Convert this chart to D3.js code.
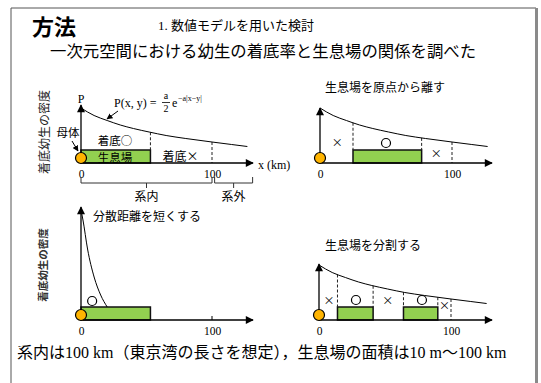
<!DOCTYPE html>
<html>
<head>
<meta charset="utf-8">
<script src="https://cdn.jsdelivr.net/npm/d3@7"></script>
<style>
  body { margin: 0; background: #fff; }
  svg { display: block; }
</style>
</head>
<body>
<div id="chart"></div>
<script>
var width = 541, height = 383;

// x positions in km, density in arbitrary units
var tickValues = [0, 100];
var curveLong = [[0, 55], [5, 51], [10, 47.5], [20, 42.5], [30, 38], [40, 34.5], [52, 31],
                 [65, 27.5], [80, 24.5], [100, 21], [115, 18.5], [127, 16.5]];
var curveShort = [[0, 110], [1.5, 100], [5, 71], [10, 43], [15, 25], [20, 13]];

var habitat1 = [[0, 53]];
var habitat2 = [[25, 77]];
var habitat3 = [[0, 53]];
var habitat4 = [[14, 41], [64, 90]];

var settled2 = [[50, 20]];
var failed2 = [[13, 20], [88, 9]];
var settled3 = [[8.5, 19]];
var settled4 = [[28, 20], [78, 20]];
var failed4 = [[7.5, 19], [52, 19], [95, 14]];

var zones = [{ name: '系内', from: 0, to: 100 }, { name: '系外', from: 102, to: 131 }];

var jp = "'Noto Sans CJK JP', sans-serif";
var serif = "'Liberation Serif', 'Noto Sans CJK JP', serif";

var svg = d3.select('#chart')
    .append('svg')
    .attr('width', width)
    .attr('height', height);

var defs = svg.append('defs');
defs.append('marker')
    .attr('id', 'arrow')
    .attr('viewBox', '0 0 10 10')
    .attr('refX', 9).attr('refY', 5)
    .attr('markerWidth', 10).attr('markerHeight', 8)
    .attr('markerUnits', 'userSpaceOnUse')
    .attr('orient', 'auto')
    .append('path').attr('d', 'M0,0L10,5L0,10z').attr('fill', '#000');
defs.append('marker')
    .attr('id', 'arrowSmall')
    .attr('viewBox', '0 0 10 10')
    .attr('refX', 9).attr('refY', 5)
    .attr('markerWidth', 6).attr('markerHeight', 6)
    .attr('markerUnits', 'userSpaceOnUse')
    .attr('orient', 'auto')
    .append('path').attr('d', 'M0,0L10,5L0,10z').attr('fill', '#000');

// slide frame
svg.append('line').attr('x1', 11).attr('y1', 8).attr('x2', 536).attr('y2', 8)
    .attr('stroke', '#555').attr('stroke-width', 1);
svg.append('line').attr('x1', 11).attr('y1', 8).attr('x2', 11).attr('y2', height)
    .attr('stroke', '#555').attr('stroke-width', 1);
svg.append('line').attr('x1', 536.5).attr('y1', 8).attr('x2', 536.5).attr('y2', height)
    .attr('stroke', '#8a8a8a').attr('stroke-width', 3);

// headings
svg.append('text').attr('x', 32).attr('y', 35)
    .attr('font-family', jp).attr('font-size', 22).attr('font-weight', 'bold')
    .text('方法');
svg.append('text').attr('x', 158).attr('y', 30)
    .attr('font-family', serif).attr('font-size', 13)
    .text('1. 数値モデルを用いた検討');
svg.append('text').attr('x', 50).attr('y', 57)
    .attr('font-family', jp).attr('font-size', 16.4)
    .text('一次元空間における幼生の着底率と生息場の関係を調べた');

function drawPanel(cfg) {
    var x = d3.scaleLinear().domain([0, 100]).range([cfg.x0, cfg.x100]);
    var y = d3.scaleLinear().domain([0, 100]).range([cfg.y0, cfg.y0 - 100]);
    var g = svg.append('g');
    var boxH = 13;

    // habitat boxes
    g.selectAll('.hab')
        .data(cfg.habitat)
        .enter()
        .append('rect')
        .attr('x', d => x(d[0]))
        .attr('y', cfg.y0 - boxH)
        .attr('width', d => x(d[1]) - x(d[0]))
        .attr('height', boxH)
        .attr('fill', '#92d050')
        .attr('stroke', '#111')
        .attr('stroke-width', 1.5);

    var curveFn = d3.line()
        .x(d => x(d[0]))
        .y(d => y(d[1]))
        .curve(d3.curveMonotoneX);

    // dashed borders from curve to box top / axis
    if (cfg.dashes) {
        var edges = [];
        cfg.habitat.forEach(h => h.forEach(e => { if (e > 0) edges.push(e); }));
        var interp = d3.scaleLinear().domain(cfg.curve.map(d => d[0])).range(cfg.curve.map(d => d[1]));
        edges.forEach(e => {
            g.append('line')
                .attr('x1', x(e)).attr('x2', x(e))
                .attr('y1', y(interp(e))).attr('y2', cfg.y0 - boxH)
                .attr('stroke', '#222').attr('stroke-dasharray', '3,2').attr('stroke-width', 1);
        });
        g.append('line')
            .attr('x1', x(100)).attr('x2', x(100))
            .attr('y1', y(interp(100))).attr('y2', cfg.y0)
            .attr('stroke', '#222').attr('stroke-dasharray', '3,2').attr('stroke-width', 1);
    } else {
        g.append('line')
            .attr('x1', x(100)).attr('x2', x(100))
            .attr('y1', cfg.y0 - 4).attr('y2', cfg.y0)
            .attr('stroke', '#000');
    }

    g.append('path')
        .datum(cfg.curve)
        .attr('d', curveFn)
        .attr('fill', 'none')
        .attr('stroke', '#000')
        .attr('stroke-width', 1);

    // axes
    g.append('line')
        .attr('x1', cfg.x0).attr('y1', cfg.y0)
        .attr('x2', cfg.xEnd).attr('y2', cfg.y0)
        .attr('stroke', '#000').attr('stroke-width', 1.3)
        .attr('marker-end', 'url(#arrow)');
    g.append('line')
        .attr('x1', cfg.x0).attr('y1', cfg.y0)
        .attr('x2', cfg.x0).attr('y2', cfg.top)
        .attr('stroke', '#000').attr('stroke-width', 1.3)
        .attr('marker-end', 'url(#arrow)');

    var ax = g.append('g')
        .attr('transform', `translate(0, ${cfg.y0})`)
        .call(d3.axisBottom(x).tickValues(tickValues).tickSize(0).tickPadding(7));
    ax.select('.domain').remove();
    ax.selectAll('text')
        .attr('font-family', serif)
        .attr('font-size', 11.5)
        .attr('fill', '#000');

    // mother
    g.append('circle')
        .attr('cx', cfg.x0).attr('cy', cfg.y0 - 5)
        .attr('r', 5.5)
        .attr('fill', '#ffb400')
        .attr('stroke', '#000').attr('stroke-width', 1.2);

    // settle ok / fail marks
    g.selectAll('.ok')
        .data(cfg.settled || [])
        .enter()
        .append('circle')
        .attr('cx', d => x(d[0]))
        .attr('cy', d => y(d[1]))
        .attr('r', 4.5)
        .attr('fill', '#fff')
        .attr('stroke', '#000')
        .attr('stroke-width', 1.2);
    g.selectAll('.ng')
        .data(cfg.failed || [])
        .enter()
        .append('text')
        .attr('x', d => x(d[0]))
        .attr('y', d => y(d[1]))
        .attr('dy', '0.35em')
        .attr('text-anchor', 'middle')
        .attr('font-family', jp)
        .attr('font-size', 11)
        .text('×');

    if (cfg.title) {
        g.append('text')
            .attr('x', cfg.titleX).attr('y', cfg.titleY)
            .attr('font-family', jp).attr('font-size', 12)
            .text(cfg.title);
    }
    return { g: g, x: x, y: y };
}

var p1 = drawPanel({ x0: 81, x100: 212, y0: 163, top: 105, xEnd: 253,
    curve: curveLong, habitat: habitat1, dashes: true });
var p2 = drawPanel({ x0: 320, x100: 452, y0: 163, top: 108, xEnd: 492,
    curve: curveLong, habitat: habitat2, dashes: true,
    settled: settled2, failed: failed2,
    title: '生息場を原点から離す', titleX: 325, titleY: 92 });
var p3 = drawPanel({ x0: 81, x100: 212, y0: 320, top: 207, xEnd: 253,
    curve: curveShort, habitat: habitat3, dashes: false,
    settled: settled3,
    title: '分散距離を短くする', titleX: 93, titleY: 221 });
var p4 = drawPanel({ x0: 319, x100: 451, y0: 320, top: 264, xEnd: 492,
    curve: curveLong, habitat: habitat4, dashes: true,
    settled: settled4, failed: failed4,
    title: '生息場を分割する', titleX: 325, titleY: 250 });

// panel 1 annotations
var g1 = p1.g, x1 = p1.x;
g1.append('text').attr('x', x1(26)).attr('y', 157.5).attr('dy', '0.35em')
    .attr('text-anchor', 'middle').attr('font-family', jp).attr('font-size', 11.5)
    .text('生息場');
g1.append('text').attr('x', x1(26)).attr('y', 141).attr('dy', '0.35em')
    .attr('text-anchor', 'middle').attr('font-family', jp).attr('font-size', 11.5)
    .text('着底○');
g1.append('text').attr('x', x1(76)).attr('y', 157).attr('dy', '0.35em')
    .attr('text-anchor', 'middle').attr('font-family', jp).attr('font-size', 12)
    .text('着底×');
g1.append('text').attr('x', 68).attr('y', 133).attr('dy', '0.35em')
    .attr('text-anchor', 'middle').attr('font-family', jp).attr('font-size', 11.5)
    .text('母体');
g1.append('line').attr('x1', 72).attr('y1', 141).attr('x2', 78).attr('y2', 151)
    .attr('stroke', '#000').attr('marker-end', 'url(#arrowSmall)');
g1.append('text').attr('x', 81).attr('y', 103).attr('text-anchor', 'middle')
    .attr('font-family', serif).attr('font-size', 12).text('P');
g1.append('text').attr('x', 258).attr('y', 169)
    .attr('font-family', serif).attr('font-size', 12).text('x (km)');

// formula
g1.append('text').attr('x', 114).attr('y', 107)
    .attr('font-family', serif).attr('font-size', 12).text('P(x, y) =');
g1.append('text').attr('x', 166).attr('y', 99).attr('text-anchor', 'middle')
    .attr('font-family', serif).attr('font-size', 10).text('a');
g1.append('line').attr('x1', 162).attr('x2', 170).attr('y1', 102.5).attr('y2', 102.5)
    .attr('stroke', '#000').attr('stroke-width', 0.8);
g1.append('text').attr('x', 166).attr('y', 112).attr('text-anchor', 'middle')
    .attr('font-family', serif).attr('font-size', 10).text('2');
g1.append('text').attr('x', 172).attr('y', 107)
    .attr('font-family', serif).attr('font-size', 12).text('e');
g1.append('text').attr('x', 178).attr('y', 101)
    .attr('font-family', serif).attr('font-size', 8).text('−a|x−y|');
g1.append('line').attr('x1', 118).attr('y1', 111).attr('x2', 107).attr('y2', 119)
    .attr('stroke', '#000').attr('marker-end', 'url(#arrowSmall)');

// zone brackets
zones.forEach(z => {
    var a = x1(z.from), b = x1(z.to), m = (a + b) / 2;
    g1.append('path')
        .attr('d', `M${a},177V183H${b}V177M${m},183V188`)
        .attr('fill', 'none').attr('stroke', '#333').attr('stroke-width', 1);
    g1.append('text').attr('x', m).attr('y', 197).attr('dy', '0.35em')
        .attr('text-anchor', 'middle').attr('font-family', jp).attr('font-size', 12)
        .text(z.name);
});

// y labels
svg.append('text').attr('transform', 'translate(45,132) rotate(-90)')
    .attr('text-anchor', 'middle').attr('dy', '0.35em')
    .attr('font-family', jp).attr('font-size', 12).attr('fill', '#222')
    .text('着底幼生の密度');
svg.append('text').attr('transform', 'translate(43,265) rotate(-90)')
    .attr('text-anchor', 'middle').attr('dy', '0.35em')
    .attr('font-family', jp).attr('font-size', 10.5).attr('font-weight', 'bold').attr('fill', '#333')
    .text('着底幼生の密度');

// footnote
svg.append('text').attr('x', 17).attr('y', 358)
    .attr('font-family', serif).attr('font-size', 16)
    .text('系内は100 km（東京湾の長さを想定），生息場の面積は10 m～100 km');
</script>
</body>
</html>
